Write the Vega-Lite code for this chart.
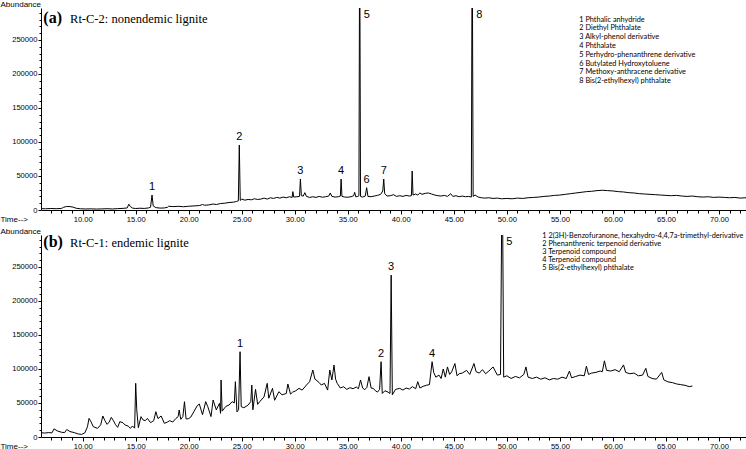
{
  "$schema": "https://vega.github.io/schema/vega-lite/v6.json",
  "background": "white",
  "padding": {"left": 0, "top": 0, "right": 0, "bottom": 0},
  "spacing": 25,
  "bounds": "flush",
  "config": {
    "view": {"stroke": null},
    "font": "Liberation Sans",
    "axis": {"domainColor": "black", "tickColor": "black", "labelColor": "black", "titleColor": "black", "grid": false,
             "labelFont": "Liberation Sans", "labelFontSize": 7.6, "titleFont": "Liberation Sans", "titleFontSize": 8,
             "titleFontWeight": "normal", "domainWidth": 1, "tickWidth": 1},
    "legend": {"title": null, "symbolSize": 0, "symbolOpacity": 0, "symbolStrokeWidth": 0, "labelFont": "Lato", "labelFontSize": 7.3,
               "labelColor": "black", "labelOffset": 0, "padding": 0, "labelLimit": 400}
  },
  "resolve": {"scale": {"color": "independent", "x": "independent", "y": "independent"}, "legend": {"color": "independent"}},
  "datasets": {
    "titles": [
      {"panel":"a","tag":"(a)","name":"Rt-C-2: nonendemic lignite"},
      {"panel":"b","tag":"(b)","name":"Rt-C-1: endemic lignite"}
    ],
    "traceA": [
      {"time":6.07,"abundance":2000},{"time":6.5,"abundance":1800},{"time":7.0,"abundance":2200},{"time":7.5,"abundance":1900},
      {"time":8.0,"abundance":2300},{"time":8.2,"abundance":4000},{"time":8.5,"abundance":5200},{"time":8.8,"abundance":5000},
      {"time":9.1,"abundance":4200},{"time":9.4,"abundance":2500},{"time":9.8,"abundance":1800},{"time":10.3,"abundance":1500},
      {"time":10.8,"abundance":1700},{"time":11.3,"abundance":1400},{"time":11.8,"abundance":1600},{"time":12.3,"abundance":1900},
      {"time":12.8,"abundance":1500},{"time":13.3,"abundance":2000},{"time":13.8,"abundance":2400},{"time":14.2,"abundance":3000},
      {"time":14.35,"abundance":8500},{"time":14.5,"abundance":5000},{"time":14.7,"abundance":2800},{"time":15.0,"abundance":2200},
      {"time":15.4,"abundance":2600},{"time":15.8,"abundance":2300},{"time":16.2,"abundance":3000},{"time":16.4,"abundance":4000},
      {"time":16.54,"abundance":22000},{"time":16.65,"abundance":6000},{"time":16.9,"abundance":3500},{"time":17.3,"abundance":2800},
      {"time":17.7,"abundance":3000},{"time":18.0,"abundance":4000},{"time":18.1,"abundance":5500},{"time":18.5,"abundance":5000},
      {"time":19.0,"abundance":5400},{"time":19.5,"abundance":4800},{"time":20.0,"abundance":5500},{"time":20.5,"abundance":6000},
      {"time":21.0,"abundance":6500},{"time":21.3,"abundance":8000},{"time":21.5,"abundance":7000},{"time":21.9,"abundance":7500},
      {"time":22.3,"abundance":8800},{"time":22.6,"abundance":8000},{"time":23.0,"abundance":9500},{"time":23.4,"abundance":10000},
      {"time":23.8,"abundance":11000},{"time":24.2,"abundance":11500},{"time":24.5,"abundance":12500},{"time":24.68,"abundance":13500},
      {"time":24.77,"abundance":95500},{"time":24.86,"abundance":14000},{"time":25.0,"abundance":16000},{"time":25.3,"abundance":14500},
      {"time":25.6,"abundance":15500},{"time":25.9,"abundance":15000},{"time":26.2,"abundance":16500},{"time":26.5,"abundance":15500},
      {"time":26.8,"abundance":16000},{"time":27.1,"abundance":17500},{"time":27.4,"abundance":16000},{"time":27.7,"abundance":18000},
      {"time":28.0,"abundance":17000},{"time":28.3,"abundance":18500},{"time":28.6,"abundance":17500},{"time":28.9,"abundance":19000},
      {"time":29.2,"abundance":18000},{"time":29.5,"abundance":19500},{"time":29.75,"abundance":18500},{"time":29.82,"abundance":27000},
      {"time":29.9,"abundance":19000},{"time":30.2,"abundance":19500},{"time":30.45,"abundance":20000},{"time":30.53,"abundance":45500},
      {"time":30.62,"abundance":21000},{"time":30.8,"abundance":20500},{"time":30.95,"abundance":25500},{"time":31.1,"abundance":20000},
      {"time":31.4,"abundance":18500},{"time":31.7,"abundance":19500},{"time":32.0,"abundance":18500},{"time":32.3,"abundance":20000},
      {"time":32.6,"abundance":18800},{"time":32.9,"abundance":19500},{"time":33.2,"abundance":20500},{"time":33.35,"abundance":25000},
      {"time":33.5,"abundance":20000},{"time":33.8,"abundance":19000},{"time":34.1,"abundance":19500},{"time":34.3,"abundance":20500},
      {"time":34.37,"abundance":45500},{"time":34.45,"abundance":20000},{"time":34.7,"abundance":19000},{"time":35.0,"abundance":18800},
      {"time":35.3,"abundance":19500},{"time":35.55,"abundance":21000},{"time":35.65,"abundance":26000},{"time":35.75,"abundance":19500},
      {"time":35.95,"abundance":20000},{"time":36.05,"abundance":21000},{"time":36.12,"abundance":420000},{"time":36.2,"abundance":20000},
      {"time":36.4,"abundance":19000},{"time":36.65,"abundance":20500},{"time":36.78,"abundance":32800},{"time":36.9,"abundance":20000},
      {"time":37.2,"abundance":19500},{"time":37.5,"abundance":20500},{"time":37.8,"abundance":21500},{"time":38.1,"abundance":23000},
      {"time":38.3,"abundance":28000},{"time":38.39,"abundance":45500},{"time":38.48,"abundance":24000},{"time":38.7,"abundance":20500},
      {"time":39.0,"abundance":21000},{"time":39.3,"abundance":22500},{"time":39.6,"abundance":20000},{"time":39.9,"abundance":21000},
      {"time":40.2,"abundance":20000},{"time":40.5,"abundance":21500},{"time":40.8,"abundance":20500},{"time":41.0,"abundance":21000},
      {"time":41.07,"abundance":57300},{"time":41.15,"abundance":22000},{"time":41.4,"abundance":23500},{"time":41.6,"abundance":22000},
      {"time":41.8,"abundance":25000},{"time":42.0,"abundance":23000},{"time":42.3,"abundance":24500},{"time":42.6,"abundance":25000},
      {"time":42.9,"abundance":23500},{"time":43.2,"abundance":22000},{"time":43.5,"abundance":21000},{"time":43.8,"abundance":20500},
      {"time":44.1,"abundance":21500},{"time":44.4,"abundance":20000},{"time":44.7,"abundance":24000},{"time":44.9,"abundance":20000},
      {"time":45.2,"abundance":21000},{"time":45.5,"abundance":19500},{"time":45.8,"abundance":20500},{"time":46.1,"abundance":19500},
      {"time":46.4,"abundance":20000},{"time":46.65,"abundance":19000},{"time":46.73,"abundance":420000},{"time":46.82,"abundance":20000},
      {"time":47.0,"abundance":22000},{"time":47.3,"abundance":19000},{"time":47.6,"abundance":18000},{"time":47.9,"abundance":17500},
      {"time":48.3,"abundance":18000},{"time":48.7,"abundance":17000},{"time":49.1,"abundance":17500},{"time":49.5,"abundance":16500},
      {"time":50.0,"abundance":17000},{"time":50.5,"abundance":16500},{"time":51.0,"abundance":17500},{"time":51.5,"abundance":17000},
      {"time":52.0,"abundance":18000},{"time":52.5,"abundance":18500},{"time":53.0,"abundance":19000},{"time":53.5,"abundance":20000},
      {"time":54.0,"abundance":20500},{"time":54.5,"abundance":21500},{"time":55.0,"abundance":22000},{"time":55.5,"abundance":23000},
      {"time":56.0,"abundance":24000},{"time":56.5,"abundance":25000},{"time":57.0,"abundance":26000},{"time":57.5,"abundance":27000},
      {"time":58.0,"abundance":27500},{"time":58.5,"abundance":28500},{"time":59.0,"abundance":29000},{"time":59.5,"abundance":28500},
      {"time":60.0,"abundance":28000},{"time":60.5,"abundance":27000},{"time":61.0,"abundance":26500},{"time":61.5,"abundance":25500},
      {"time":62.0,"abundance":25000},{"time":62.5,"abundance":24000},{"time":63.0,"abundance":23500},{"time":63.5,"abundance":23000},
      {"time":64.0,"abundance":22500},{"time":64.5,"abundance":22000},{"time":65.0,"abundance":21500},{"time":65.5,"abundance":21000},
      {"time":66.0,"abundance":21500},{"time":66.5,"abundance":20500},{"time":67.0,"abundance":20000},{"time":67.5,"abundance":20500},
      {"time":68.0,"abundance":19500},{"time":68.5,"abundance":19000},{"time":69.0,"abundance":19500},{"time":69.5,"abundance":18500},
      {"time":70.0,"abundance":19000},{"time":70.5,"abundance":18500},{"time":71.0,"abundance":18000},{"time":71.5,"abundance":18500},
      {"time":72.0,"abundance":17500},{"time":72.55,"abundance":18000}
    ],
    "traceB": [
      {"time":6.07,"abundance":6400},{"time":6.4,"abundance":5800},{"time":6.8,"abundance":6500},{"time":7.1,"abundance":6000},
      {"time":7.3,"abundance":12000},{"time":7.6,"abundance":9000},{"time":8.0,"abundance":7000},{"time":8.3,"abundance":6500},
      {"time":8.5,"abundance":11000},{"time":8.8,"abundance":8000},{"time":9.2,"abundance":6500},{"time":9.6,"abundance":4400},
      {"time":9.9,"abundance":3800},{"time":10.2,"abundance":6000},{"time":10.45,"abundance":15000},{"time":10.6,"abundance":27400},
      {"time":10.8,"abundance":22000},{"time":11.0,"abundance":15200},{"time":11.4,"abundance":12700},{"time":11.7,"abundance":18000},
      {"time":11.9,"abundance":30900},{"time":12.1,"abundance":24000},{"time":12.3,"abundance":18600},{"time":12.5,"abundance":22000},
      {"time":12.7,"abundance":28900},{"time":12.9,"abundance":24000},{"time":13.1,"abundance":18000},{"time":13.3,"abundance":14200},
      {"time":13.5,"abundance":22500},{"time":13.8,"abundance":21000},{"time":14.0,"abundance":17600},{"time":14.3,"abundance":16000},
      {"time":14.5,"abundance":12700},{"time":14.7,"abundance":16200},{"time":14.9,"abundance":13000},{"time":15.0,"abundance":78900},
      {"time":15.1,"abundance":40000},{"time":15.25,"abundance":13700},{"time":15.5,"abundance":29900},{"time":15.7,"abundance":25000},
      {"time":15.9,"abundance":24000},{"time":16.1,"abundance":27400},{"time":16.4,"abundance":21100},{"time":16.7,"abundance":24000},
      {"time":16.9,"abundance":37200},{"time":17.1,"abundance":27000},{"time":17.4,"abundance":30900},{"time":17.7,"abundance":20100},
      {"time":18.0,"abundance":22000},{"time":18.2,"abundance":24000},{"time":18.5,"abundance":22000},{"time":18.8,"abundance":27400},
      {"time":19.0,"abundance":30000},{"time":19.1,"abundance":39700},{"time":19.25,"abundance":26000},{"time":19.45,"abundance":30000},
      {"time":19.6,"abundance":51900},{"time":19.75,"abundance":26500},{"time":20.0,"abundance":27000},{"time":20.2,"abundance":29400},
      {"time":20.5,"abundance":37700},{"time":20.8,"abundance":46000},{"time":21.0,"abundance":48500},{"time":21.3,"abundance":32800},
      {"time":21.6,"abundance":52000},{"time":21.8,"abundance":44600},{"time":22.1,"abundance":30000},{"time":22.3,"abundance":54400},
      {"time":22.6,"abundance":40000},{"time":22.9,"abundance":49500},{"time":23.0,"abundance":34800},{"time":23.05,"abundance":83800},
      {"time":23.15,"abundance":38000},{"time":23.5,"abundance":45000},{"time":23.8,"abundance":47000},{"time":24.1,"abundance":52000},
      {"time":24.3,"abundance":50000},{"time":24.4,"abundance":81300},{"time":24.55,"abundance":37000},{"time":24.7,"abundance":40000},
      {"time":24.84,"abundance":125400},{"time":24.95,"abundance":44600},{"time":25.2,"abundance":43000},{"time":25.6,"abundance":47000},
      {"time":25.85,"abundance":52000},{"time":25.95,"abundance":76400},{"time":26.05,"abundance":40000},{"time":26.3,"abundance":70000},
      {"time":26.5,"abundance":48000},{"time":26.7,"abundance":52000},{"time":27.1,"abundance":59000},{"time":27.4,"abundance":78900},
      {"time":27.55,"abundance":57000},{"time":27.9,"abundance":71500},{"time":28.1,"abundance":54000},{"time":28.5,"abundance":66600},
      {"time":28.8,"abundance":62000},{"time":29.2,"abundance":64000},{"time":29.35,"abundance":77900},{"time":29.6,"abundance":63000},
      {"time":29.8,"abundance":66000},{"time":30.1,"abundance":68000},{"time":30.4,"abundance":71500},{"time":30.7,"abundance":69000},
      {"time":31.1,"abundance":76400},{"time":31.4,"abundance":81300},{"time":31.7,"abundance":98500},{"time":31.9,"abundance":85000},
      {"time":32.0,"abundance":84000},{"time":32.3,"abundance":80000},{"time":32.5,"abundance":76400},{"time":32.8,"abundance":78900},
      {"time":33.1,"abundance":69000},{"time":33.3,"abundance":98500},{"time":33.5,"abundance":83800},{"time":33.7,"abundance":105800},
      {"time":33.85,"abundance":85000},{"time":34.0,"abundance":78900},{"time":34.3,"abundance":72000},{"time":34.6,"abundance":74000},
      {"time":34.9,"abundance":70000},{"time":35.2,"abundance":72500},{"time":35.5,"abundance":71000},{"time":35.8,"abundance":73500},
      {"time":36.0,"abundance":71000},{"time":36.2,"abundance":83800},{"time":36.4,"abundance":72000},{"time":36.6,"abundance":69600},
      {"time":36.8,"abundance":73000},{"time":37.0,"abundance":88700},{"time":37.2,"abundance":72000},{"time":37.4,"abundance":71500},
      {"time":37.6,"abundance":68000},{"time":37.8,"abundance":66000},{"time":38.0,"abundance":70000},{"time":38.14,"abundance":110700},
      {"time":38.25,"abundance":64000},{"time":38.5,"abundance":68000},{"time":38.8,"abundance":66000},{"time":38.98,"abundance":64000},
      {"time":39.09,"abundance":238000},{"time":39.2,"abundance":62000},{"time":39.5,"abundance":70000},{"time":39.9,"abundance":71500},
      {"time":40.2,"abundance":69000},{"time":40.5,"abundance":72000},{"time":40.8,"abundance":70500},{"time":41.1,"abundance":74000},
      {"time":41.4,"abundance":71000},{"time":41.6,"abundance":81300},{"time":41.8,"abundance":72000},{"time":42.1,"abundance":74500},
      {"time":42.4,"abundance":76000},{"time":42.7,"abundance":77000},{"time":42.95,"abundance":110700},{"time":43.1,"abundance":95000},
      {"time":43.3,"abundance":88000},{"time":43.6,"abundance":91000},{"time":43.8,"abundance":86000},{"time":44.0,"abundance":100000},
      {"time":44.2,"abundance":88000},{"time":44.4,"abundance":103000},{"time":44.6,"abundance":92000},{"time":44.8,"abundance":96000},
      {"time":45.1,"abundance":108000},{"time":45.3,"abundance":90000},{"time":45.5,"abundance":93000},{"time":45.8,"abundance":94000},
      {"time":46.2,"abundance":98000},{"time":46.5,"abundance":92000},{"time":46.9,"abundance":108000},{"time":47.1,"abundance":96000},
      {"time":47.4,"abundance":94000},{"time":47.7,"abundance":99000},{"time":48.0,"abundance":93000},{"time":48.3,"abundance":97000},
      {"time":48.7,"abundance":103000},{"time":49.1,"abundance":91000},{"time":49.4,"abundance":92000},{"time":49.56,"abundance":420000},
      {"time":49.7,"abundance":88000},{"time":50.0,"abundance":90000},{"time":50.4,"abundance":86000},{"time":50.8,"abundance":89000},
      {"time":51.2,"abundance":87000},{"time":51.6,"abundance":92000},{"time":51.8,"abundance":103000},{"time":52.0,"abundance":88000},
      {"time":52.4,"abundance":86000},{"time":52.8,"abundance":88000},{"time":53.2,"abundance":85000},{"time":53.6,"abundance":87000},
      {"time":54.0,"abundance":84000},{"time":54.4,"abundance":86000},{"time":54.8,"abundance":85000},{"time":55.2,"abundance":88000},
      {"time":55.6,"abundance":86000},{"time":55.9,"abundance":97000},{"time":56.1,"abundance":87000},{"time":56.5,"abundance":89000},
      {"time":56.9,"abundance":91000},{"time":57.3,"abundance":90000},{"time":57.5,"abundance":104000},{"time":57.7,"abundance":92000},
      {"time":58.0,"abundance":94000},{"time":58.4,"abundance":95000},{"time":58.8,"abundance":97000},{"time":59.0,"abundance":96000},
      {"time":59.2,"abundance":112000},{"time":59.4,"abundance":98000},{"time":59.8,"abundance":97000},{"time":60.2,"abundance":99000},
      {"time":60.6,"abundance":96000},{"time":61.0,"abundance":106000},{"time":61.2,"abundance":95000},{"time":61.6,"abundance":93000},
      {"time":62.0,"abundance":94000},{"time":62.4,"abundance":90000},{"time":62.8,"abundance":91000},{"time":63.1,"abundance":101000},
      {"time":63.3,"abundance":89000},{"time":63.7,"abundance":86000},{"time":64.1,"abundance":85000},{"time":64.6,"abundance":95000},
      {"time":64.8,"abundance":84000},{"time":65.2,"abundance":81000},{"time":65.6,"abundance":80000},{"time":66.0,"abundance":78000},
      {"time":66.4,"abundance":77000},{"time":66.8,"abundance":76000},{"time":67.2,"abundance":74000},{"time":67.5,"abundance":75000}
    ],
    "peaksA": [
      {"peak":"1","time":16.54,"abundance":22000,"compound":"1 Phthalic anhydride"},
      {"peak":"2","time":24.77,"abundance":95500,"compound":"2 Diethyl Phthalate"},
      {"peak":"3","time":30.53,"abundance":45500,"compound":"3 Alkyl-phenol derivative"},
      {"peak":"4","time":34.37,"abundance":45500,"compound":"4 Phthalate"},
      {"peak":"5","time":36.12,"abundance":420000,"compound":"5 Perhydro-phenanthrene derivative"},
      {"peak":"6","time":36.78,"abundance":32800,"compound":"6 Butylated Hydroxytoluene"},
      {"peak":"7","time":38.39,"abundance":45500,"compound":"7 Methoxy-anthracene derivative"},
      {"peak":"8","time":46.73,"abundance":420000,"compound":"8 Bis(2-ethylhexyl) phthalate"}
    ],
    "peaksB": [
      {"peak":"1","time":24.84,"abundance":125400,"compound":"1 2(3H)-Benzofuranone, hexahydro-4,4,7a-trimethyl-derivative"},
      {"peak":"2","time":38.14,"abundance":110700,"compound":"2 Phenanthrenic terpenoid derivative"},
      {"peak":"3","time":39.09,"abundance":238000,"compound":"3 Terpenoid compound"},
      {"peak":"4","time":42.95,"abundance":110700,"compound":"4 Terpenoid compound"},
      {"peak":"5","time":49.56,"abundance":420000,"compound":"5 Bis(2-ethylhexyl) phthalate"}
    ]
  },
  "vconcat": [
    {
      "width": 705, "height": 202,
      "resolve": {"axis": {"x": "independent", "y": "independent"}},
      "layer": [
        {
          "data": {"name": "traceA"},
          "mark": {"type": "line", "color": "black", "strokeWidth": 1, "clip": true},
          "encoding": {
            "x": {"field": "time", "type": "quantitative", "scale": {"domain": [6.07, 72.55], "nice": false, "zero": false},
                  "axis": {"orient": "bottom", "values": [10,15,20,25,30,35,40,45,50,55,60,65,70], "format": ".2f", "tickSize": 4,
                           "labelPadding": 1, "labelFlush": false, "labelOverlap": false,
                           "title": "Time-->", "titleX": -41, "titleY": 5, "titleAlign": "left", "titleBaseline": "top"}},
            "y": {"field": "abundance", "type": "quantitative", "scale": {"domain": [0, 297000], "nice": false},
                  "axis": {"orient": "left", "values": [0,50000,100000,150000,200000,250000], "format": "d", "tickSize": 3,
                           "labelPadding": 1, "labelOverlap": false,
                           "title": "Abundance", "titleAngle": 0, "titleX": -41, "titleY": -2, "titleAlign": "left", "titleBaseline": "alphabetic"}}
          }
        },
        {
          "data": {"name": "peaksA"},
          "transform": [{"filter": "datum.abundance < 297000"}],
          "mark": {"type": "text", "font": "Liberation Sans", "fontSize": 11, "baseline": "bottom", "dy": -3, "color": "black"},
          "encoding": {
            "x": {"field": "time", "type": "quantitative",
                  "axis": {"orient": "bottom", "values": [7,8,9,11,12,13,14,16,17,18,19,21,22,23,24,26,27,28,29,31,32,33,34,36,37,38,39,41,42,43,44,46,47,48,49,51,52,53,54,56,57,58,59,61,62,63,64,66,67,68,69,71,72],
                           "labels": false, "domain": false, "tickSize": 3, "title": null}},
            "y": {"field": "abundance", "type": "quantitative",
                  "axis": {"orient": "left", "values": [10000,20000,30000,40000,60000,70000,80000,90000,110000,120000,130000,140000,160000,170000,180000,190000,210000,220000,230000,240000,260000,270000,280000,290000],
                           "labels": false, "domain": false, "tickSize": 2, "title": null}},
            "text": {"field": "peak"}
          }
        },
        {
          "data": {"name": "peaksA"},
          "transform": [{"filter": "datum.abundance >= 297000"}],
          "mark": {"type": "text", "font": "Liberation Sans", "fontSize": 11, "baseline": "top", "align": "left", "dx": 4, "dy": 1, "color": "black"},
          "encoding": {
            "x": {"field": "time", "type": "quantitative", "axis": null},
            "y": {"datum": 297000, "axis": null},
            "text": {"field": "peak"}
          }
        },
        {
          "data": {"name": "peaksA"},
          "mark": {"type": "point", "opacity": 0, "clip": true},
          "encoding": {
            "x": {"field": "time", "type": "quantitative", "axis": null},
            "y": {"field": "abundance", "type": "quantitative", "axis": null},
            "color": {"field": "compound", "type": "nominal",
                      "legend": {"orient": "none", "legendX": 531, "legendY": 8, "rowPadding": 0.8}}
          }
        },
        {
          "data": {"name": "titles"},
          "transform": [{"filter": "datum.panel === 'a'"}],
          "mark": {"type": "text", "font": "Liberation Serif", "fontSize": 16, "fontWeight": "bold", "align": "left", "baseline": "alphabetic", "color": "black"},
          "encoding": {"x": {"datum": 6.29, "axis": null}, "y": {"datum": 275300, "axis": null}, "text": {"field": "tag"}}
        },
        {
          "data": {"name": "titles"},
          "transform": [{"filter": "datum.panel === 'a'"}],
          "mark": {"type": "text", "font": "Liberation Serif", "fontSize": 12.5, "align": "left", "baseline": "alphabetic", "color": "black"},
          "encoding": {"x": {"datum": 8.81, "axis": null}, "y": {"datum": 275300, "axis": null}, "text": {"field": "name"}}
        }
      ]
    },
    {
      "width": 705, "height": 202,
      "resolve": {"axis": {"x": "independent", "y": "independent"}},
      "layer": [
        {
          "data": {"name": "traceB"},
          "mark": {"type": "line", "color": "black", "strokeWidth": 1, "clip": true},
          "encoding": {
            "x": {"field": "time", "type": "quantitative", "scale": {"domain": [6.07, 72.55], "nice": false, "zero": false},
                  "axis": {"orient": "bottom", "values": [10,15,20,25,30,35,40,45,50,55,60,65,70], "format": ".2f", "tickSize": 4,
                           "labelPadding": 1, "labelFlush": false, "labelOverlap": false,
                           "title": "Time-->", "titleX": -41, "titleY": 5, "titleAlign": "left", "titleBaseline": "top"}},
            "y": {"field": "abundance", "type": "quantitative", "scale": {"domain": [0, 297000], "nice": false},
                  "axis": {"orient": "left", "values": [0,50000,100000,150000,200000,250000], "format": "d", "tickSize": 3,
                           "labelPadding": 1, "labelOverlap": false,
                           "title": "Abundance", "titleAngle": 0, "titleX": -41, "titleY": -2, "titleAlign": "left", "titleBaseline": "alphabetic"}}
          }
        },
        {
          "data": {"name": "peaksB"},
          "transform": [{"filter": "datum.abundance < 297000"}],
          "mark": {"type": "text", "font": "Liberation Sans", "fontSize": 11, "baseline": "bottom", "dy": -3, "color": "black"},
          "encoding": {
            "x": {"field": "time", "type": "quantitative",
                  "axis": {"orient": "bottom", "values": [7,8,9,11,12,13,14,16,17,18,19,21,22,23,24,26,27,28,29,31,32,33,34,36,37,38,39,41,42,43,44,46,47,48,49,51,52,53,54,56,57,58,59,61,62,63,64,66,67,68,69,71,72],
                           "labels": false, "domain": false, "tickSize": 3, "title": null}},
            "y": {"field": "abundance", "type": "quantitative",
                  "axis": {"orient": "left", "values": [10000,20000,30000,40000,60000,70000,80000,90000,110000,120000,130000,140000,160000,170000,180000,190000,210000,220000,230000,240000,260000,270000,280000,290000],
                           "labels": false, "domain": false, "tickSize": 2, "title": null}},
            "text": {"field": "peak"}
          }
        },
        {
          "data": {"name": "peaksB"},
          "transform": [{"filter": "datum.abundance >= 297000"}],
          "mark": {"type": "text", "font": "Liberation Sans", "fontSize": 11, "baseline": "top", "align": "left", "dx": 4, "dy": 1, "color": "black"},
          "encoding": {
            "x": {"field": "time", "type": "quantitative", "axis": null},
            "y": {"datum": 297000, "axis": null},
            "text": {"field": "peak"}
          }
        },
        {
          "data": {"name": "peaksB"},
          "mark": {"type": "point", "opacity": 0, "clip": true},
          "encoding": {
            "x": {"field": "time", "type": "quantitative", "axis": null},
            "y": {"field": "abundance", "type": "quantitative", "axis": null},
            "color": {"field": "compound", "type": "nominal",
                      "legend": {"orient": "none", "legendX": 494, "legendY": -3, "rowPadding": 0.1}}
          }
        },
        {
          "data": {"name": "titles"},
          "transform": [{"filter": "datum.panel === 'b'"}],
          "mark": {"type": "text", "font": "Liberation Serif", "fontSize": 16, "fontWeight": "bold", "align": "left", "baseline": "alphabetic", "color": "black"},
          "encoding": {"x": {"datum": 6.29, "axis": null}, "y": {"datum": 279700, "axis": null}, "text": {"field": "tag"}}
        },
        {
          "data": {"name": "titles"},
          "transform": [{"filter": "datum.panel === 'b'"}],
          "mark": {"type": "text", "font": "Liberation Serif", "fontSize": 12.5, "align": "left", "baseline": "alphabetic", "color": "black"},
          "encoding": {"x": {"datum": 8.81, "axis": null}, "y": {"datum": 279700, "axis": null}, "text": {"field": "name"}}
        }
      ]
    }
  ]
}
